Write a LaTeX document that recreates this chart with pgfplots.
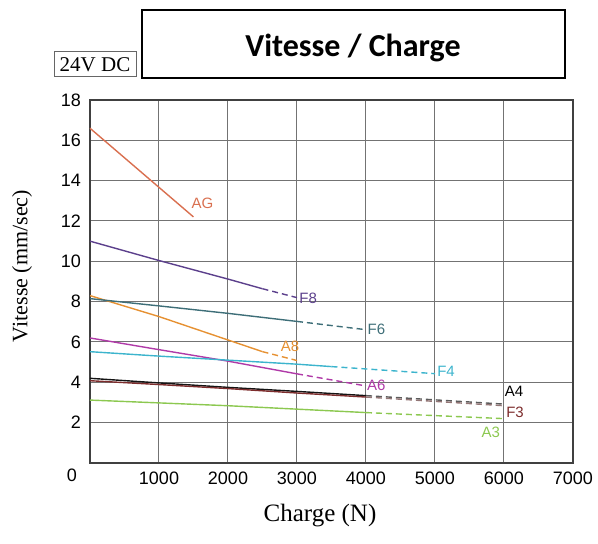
\documentclass[border=0pt]{standalone}
\usepackage{pgfplots}
\pgfplotsset{compat=1.18}
\usepackage{fontspec}
\setmainfont{Liberation Serif}
\newfontfamily\arial{Liberation Sans}
\newfontfamily\calibri{Carlito}
\definecolor{cAG}{RGB}{217,112,80}
\definecolor{cF8}{RGB}{92,64,140}
\definecolor{cA8}{RGB}{230,145,50}
\definecolor{cF6}{RGB}{62,110,120}
\definecolor{cF4}{RGB}{60,180,205}
\definecolor{cA6}{RGB}{176,58,168}
\definecolor{cA4}{RGB}{20,20,20}
\definecolor{cF3}{RGB}{125,45,45}
\definecolor{cA3}{RGB}{140,200,80}
\begin{document}
\begin{tikzpicture}
\useasboundingbox (-45pt,-40.5pt) rectangle (254pt,231.5pt);
\begin{axis}[
  at={(0,0)}, anchor=south west,
  scale only axis, width=241.5pt, height=181.5pt,
  xmin=0, xmax=7000, ymin=0, ymax=18,
  xtick={1000,2000,...,7000}, ytick={2,4,...,18},
  grid=major, grid style={black!55, line width=0.5pt},
  axis line style={black!75, line width=0.8pt},
  major tick length=0pt,
  ticklabel style={font=\arial\fontsize{9}{10}\selectfont},
  /pgf/number format/assume math mode=true,
  /pgf/number format/set thousands separator={},
  xticklabel style={yshift=-1pt},
  yticklabel style={xshift=-1pt},
  clip=false,
  every axis plot/.append style={line width=0.7pt},
  sol/.style={solid},
  dsh/.style={dash pattern=on 3pt off 2pt},
]
% AG
\addplot[cAG, sol] coordinates {(0,16.6) (1500,12.2)};
% F8
\addplot[cF8, sol] coordinates {(0,11.0) (1000,10.04) (2000,9.12) (2500,8.64)};
\addplot[cF8, dsh] coordinates {(2500,8.64) (3000,8.2)};
% A8
\addplot[cA8, sol] coordinates {(0,8.3) (1000,7.26) (2000,6.1) (2500,5.52)};
\addplot[cA8, dsh] coordinates {(2500,5.52) (3000,5.08)};
% F6
\addplot[cF6, sol] coordinates {(0,8.15) (1000,7.79) (2000,7.42) (3000,7.02)};
\addplot[cF6, dsh] coordinates {(3000,7.02) (4000,6.61)};
% A6
\addplot[cA6, sol] coordinates {(0,6.2) (1000,5.62) (2000,5.05) (3000,4.42)};
\addplot[cA6, dsh] coordinates {(3000,4.42) (4000,3.82)};
% F4
\addplot[cF4, sol] coordinates {(0,5.52) (1000,5.3) (2000,5.1) (3000,4.9) (3500,4.78)};
\addplot[cF4, dsh] coordinates {(3500,4.78) (5000,4.43)};
% A4
\addplot[cA4, sol] coordinates {(0,4.2) (1000,3.97) (2000,3.75) (3000,3.55) (4000,3.34)};
\addplot[cA4!70, dsh] coordinates {(4000,3.34) (6000,2.92)};
% F3
\addplot[cF3, sol] coordinates {(0,4.08) (1000,3.89) (2000,3.69) (3000,3.47) (4000,3.27)};
\addplot[cF3!60!black!60, dsh] coordinates {(4000,3.27) (6000,2.84)};
% A3
\addplot[cA3, sol] coordinates {(0,3.12) (1000,2.98) (2000,2.84) (3000,2.67) (4000,2.5)};
\addplot[cA3, dsh] coordinates {(4000,2.5) (6000,2.2)};
% curve labels
\begin{scope}[every node/.style={font=\arial\fontsize{7.5}{8}\selectfont, inner sep=0pt}]
\node[text=cAG] at (axis cs:1630,12.87) {AG};
\node[text=cF8] at (axis cs:3163,8.18) {F8};
\node[text=cF6] at (axis cs:4150,6.61) {F6};
\node[text=cA8] at (axis cs:2900,5.77) {A8};
\node[text=cF4] at (axis cs:5160,4.55) {F4};
\node[text=cA6] at (axis cs:4150,3.86) {A6};
\node[text=black] at (axis cs:6145,3.56) {A4};
\node[text=cF3] at (axis cs:6160,2.52) {F3};
\node[text=cA3] at (axis cs:5810,1.5) {A3};
\end{scope}
\end{axis}
% zero label
\node[font=\arial\fontsize{9}{10}\selectfont] at (-9pt,-6pt) {0};
% title box
\draw[line width=1pt] (26pt,192.5pt) rectangle (237.5pt,226.5pt);
\node[font=\calibri\bfseries\fontsize{16}{19}\selectfont, anchor=base] at (131.5pt,203pt) {Vitesse / Charge};
% 24V DC box
\draw[black!60, line width=0.5pt] (-18pt,193pt) rectangle (23pt,205.5pt);
\node[font=\fontsize{10.5}{12}\selectfont, inner sep=0pt] at (2.5pt,199.25pt) {24V DC};
% axis labels
\node[font=\fontsize{11}{13}\selectfont, rotate=90] at (-34pt,98.5pt) {Vitesse (mm/sec)};
\node[font=\fontsize{12.5}{14}\selectfont] at (115pt,-26.5pt) {Charge (N)};
\end{tikzpicture}
\end{document}
